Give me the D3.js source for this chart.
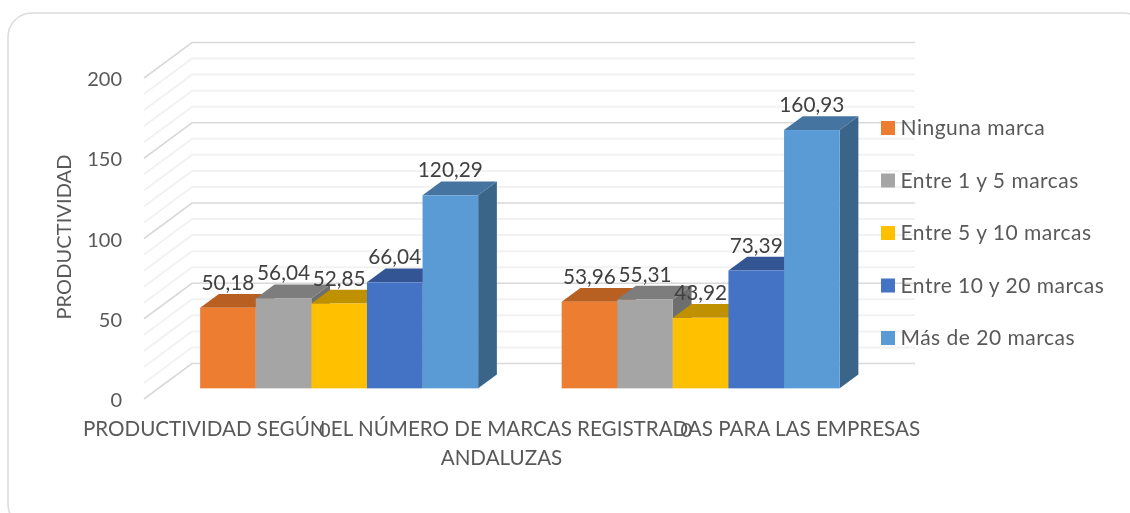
<!DOCTYPE html>
<html><head><meta charset="utf-8">
<script src="https://cdn.jsdelivr.net/npm/d3@7"></script>
<style>
html,body{margin:0;padding:0;background:#fff;overflow:hidden}
svg{display:block;filter:blur(0.4px)}
text{font-family:Lato,"Open Sans",sans-serif}
</style></head><body>
<svg id="c" width="1130" height="513"></svg>
<script>
const categories = ["0", "0"];
const seriesNames = ["Ninguna marca", "Entre 1 y 5 marcas", "Entre 5 y 10 marcas", "Entre 10 y 20 marcas", "Más de 20 marcas"];
const ninguna = [50.18, 53.96];
const entre1y5 = [56.04, 55.31];
const entre5y10 = [52.85, 43.92];
const entre10y20 = [66.04, 73.39];
const masDe20 = [120.29, 160.93];
const seriesValues = [ninguna, entre1y5, entre5y10, entre10y20, masDe20];
const frontColors = ["#ED7D31", "#A5A5A5", "#FFC000", "#4472C4", "#5B9BD5"];
const topColors = ["#B85F22", "#7D7D7D", "#BF9000", "#335593", "#44749F"];
const sideColors = ["#A0521D", "#6E6E6E", "#A67D00", "#2C4A80", "#3A6488"];
const axisTitle = "PRODUCTIVIDAD";
const xTitle = ["PRODUCTIVIDAD SEGÚN EL NÚMERO DE MARCAS REGISTRADAS PARA LAS EMPRESAS", "ANDALUZAS"];

const svg = d3.select("#c");
const fmt = v => v.toFixed(2).replace(".", ",");
const FS = 20;

svg.append("rect").attr("x", 8).attr("y", 13).attr("width", 1140).attr("height", 515).attr("rx", 24)
  .attr("fill", "#fff").attr("stroke", "#dcdcdc").attr("stroke-width", 1.6);

const y = d3.scaleLinear().domain([0, 200]).range([399, 78]);
const x0 = d3.scaleBand().domain([0, 1]).range([144, 867]);
const x1 = d3.scaleBand().domain(d3.range(seriesNames.length)).range([-139, 139]);
const depthX = 48, depthY = 35.5;
const barNear = 0.30, barDepth = 0.39;

const ticks = y.ticks(20);
const grid = svg.append("g").attr("fill", "none");
ticks.forEach(t => {
  const major = t % 50 === 0;
  const col = major ? "#d9d9d9" : "#f2f2f2";
  const yy = y(t);
  grid.append("path")
    .attr("d", d3.line()([[x0.range()[0], yy], [x0.range()[0] + depthX, yy - depthY], [x0.range()[1] + depthX, yy - depthY]]))
    .attr("stroke", col).attr("stroke-width", major ? 1.6 : 2);
});

svg.append("g").selectAll("text").data(y.ticks(4)).join("text")
  .attr("x", 122).attr("y", d => y(d) + 8).attr("text-anchor", "end")
  .attr("font-size", FS).attr("fill", "#595959").text(d => d);

svg.append("text").attr("transform", "translate(71,237) rotate(-90)").attr("text-anchor", "middle")
  .attr("font-size", FS).attr("letter-spacing", 0.1).attr("fill", "#595959").text(axisTitle);

const bars = svg.append("g");
categories.forEach((c, ci) => {
  const cx = x0(ci) + x0.bandwidth() / 2;
  seriesValues.forEach((vals, si) => {
    const v = vals[ci];
    const xl = cx + x1(si) + depthX * barNear;
    const xr = xl + x1.bandwidth();
    const base = y(0) - depthY * barNear;
    const top = y(v) - depthY * barNear;
    const dx = depthX * barDepth, dy = depthY * barDepth;
    const g = bars.append("g");
    g.append("path").attr("d", d3.line()([[xr, top], [xr + dx, top - dy], [xr + dx, base - dy], [xr, base]])).attr("fill", sideColors[si]);
    g.append("path").attr("d", d3.line()([[xl, top], [xl + dx, top - dy], [xr + dx, top - dy], [xr, top]])).attr("fill", topColors[si]);
    g.append("rect").attr("x", xl).attr("y", top).attr("width", xr - xl).attr("height", base - top).attr("fill", frontColors[si]);
  });
});
const labels = svg.append("g");
categories.forEach((c, ci) => {
  const cx = x0(ci) + x0.bandwidth() / 2;
  seriesValues.forEach((vals, si) => {
    labels.append("text")
      .attr("x", cx + x1(si) + x1.bandwidth() / 2 + depthX * barNear)
      .attr("y", y(vals[ci]) - depthY * barNear - 18)
      .attr("text-anchor", "middle").attr("font-size", 20.8).attr("fill", "#404040").text(fmt(vals[ci]));
  });
});

svg.append("g").selectAll("text").data(xTitle).join("text")
  .attr("x", 501.5).attr("y", (d, i) => 436 + i * 29).attr("text-anchor", "middle")
  .attr("font-size", 20.6).attr("fill", "#595959").text(d => d);
svg.append("g").selectAll("text").data(categories).join("text")
  .attr("x", (d, i) => x0(i) + x0.bandwidth() / 2).attr("y", 437).attr("text-anchor", "middle")
  .attr("font-size", FS).attr("fill", "#595959").text(d => d);

const leg = d3.scalePoint().domain(seriesNames).range([128, 338]);
const lg = svg.append("g").selectAll("g").data(seriesNames).join("g")
  .attr("transform", d => `translate(881,${leg(d)})`);
lg.append("rect").attr("y", -7).attr("width", 14).attr("height", 14).attr("fill", (d, i) => frontColors[i]);
lg.append("text").attr("x", 19.5).attr("y", 7).attr("font-size", 21).attr("letter-spacing", 0.5).attr("fill", "#595959").text(d => d);
</script>
</body></html>
